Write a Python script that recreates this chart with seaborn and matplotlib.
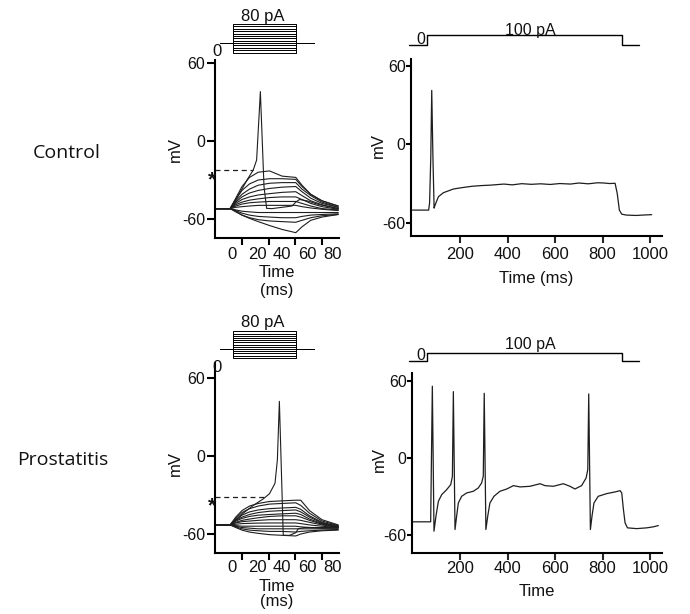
import matplotlib
matplotlib.use("Agg")
import matplotlib.pyplot as plt
import numpy as np
import pandas as pd
import seaborn as sns

# ======================= DATA =======================
row_labels = ["Control", "Prostatitis"]
step_label = "80 pA"
long_label = "100 pA"
zero_label = "0"
mv_label = "mV"
short_xlabel = "Time\n(ms)"
ctrl_long_xlabel = "Time (ms)"
pros_long_xlabel = "Time"

# current protocols
step_currents_pA = [-40, -30, -20, -10, 0, 10, 20, 30, 40, 50, 60, 70, 80]
step_protocol_t = [-9.6, 0.8, 0.8, 51.2, 51.2, 65.6]
step_protocol_on = [0, 0, 1, 1, 0, 0]
long_protocol_t = [-15, 61, 61, 882, 882, 954]
long_protocol_pA = [0, 0, 100, 100, 0, 0]

# ticks
short_tick_labels = [0, 20, 40, 60, 80]
short_tick_marks = [8, 29.6, 50.4, 72]
long_ticks = [200, 400, 600, 800, 1000]
mv_ticks = [-60, 0, 60]

# ---- Control, short steps ----
ctrl_sub_t = [-13.5, -1.5, 3, 8, 14, 21, 30, 40, 51, 56, 63, 72, 85]
ctrl_sub_mv = [
    [-52, -52, -44, -35, -28, -24, -23, -27, -28, -34, -41, -46, -50],
    [-52, -52, -45, -38, -33, -30, -29, -29, -29.5, -35, -41, -46, -50],
    [-52, -52, -46, -41, -37, -34, -32.5, -32, -32, -37, -42, -47, -51],
    [-52, -52, -47, -43, -40, -38, -36.5, -35.5, -35, -39, -44, -48, -51],
    [-52, -52, -48, -45, -43, -41.5, -40.5, -39.5, -39, -42, -46, -49, -52],
    [-52, -52, -49, -47, -45.5, -44.5, -43.5, -43, -43, -45, -48, -50.5, -52.5],
    [-52, -52, -50, -48.5, -47.5, -47, -46.5, -46.5, -46.5, -48, -50, -52, -53],
    [-52, -52, -51, -50.5, -50, -49.5, -49.5, -49.5, -49.5, -50.5, -51.5, -52.5, -53.5],
    [-52, -52, -53, -54, -54.5, -55, -55, -55, -55, -55, -55, -55, -55],
    [-52, -52, -53.5, -55.5, -57, -58, -58.5, -59, -59, -58, -57, -56.5, -56],
    [-52, -52, -54, -57, -59, -60.5, -61.5, -62, -62.5, -61, -59, -57.5, -56.5],
    [-52, -52, -54.5, -57, -59.5, -62, -65, -68, -70.5, -66, -61, -58.5, -56.5],
]
ctrl_spike_t = [-13.5, -1.5, 3, 8, 12, 17, 19.7, 22.7, 25.6, 27.7, 32, 40, 48, 51, 54, 60, 70, 85]
ctrl_spike_mv = [-52, -52, -45, -37, -30, -22.3, -14.6, 38, -35, -51.8, -52, -51, -50, -47, -45, -46, -49, -52]
ctrl_thr_t = 17
ctrl_thr_mv = -22.3

# ---- Prostatitis, short steps ----
pros_sub_t = [-13.5, -1.5, 3, 8, 14, 21, 30, 40, 51, 55, 62, 72, 85]
pros_sub_mv = [
    [-53, -53, -47, -42, -38.5, -36.5, -35, -34.5, -34, -34, -42, -49, -53],
    [-53, -53, -48, -43.5, -40.5, -38.5, -37, -36.5, -36, -38, -44, -50, -53.5],
    [-53, -53, -49, -45.5, -43, -41.5, -40.5, -40, -39.5, -41, -46, -51, -54],
    [-53, -53, -49.5, -47, -45, -43.5, -42.5, -42, -41.5, -43, -47, -51.5, -54],
    [-53, -53, -50, -48, -46.5, -45.5, -45, -44.5, -44, -45, -48.5, -52, -54.5],
    [-53, -53, -51, -49.5, -48.5, -47.5, -46.5, -46, -46, -47, -49.5, -52.5, -54.5],
    [-53, -53, -51.5, -50.5, -50, -49.5, -49, -49, -49, -49.5, -51, -53, -55],
    [-53, -53, -52.5, -52, -51.8, -51.6, -51.5, -51.5, -51.5, -52, -53, -54, -55],
    [-53, -53, -53.5, -54, -54, -54, -54, -54, -54, -54.5, -55, -55.5, -55.5],
    [-53, -53, -54, -55, -55.5, -56, -56, -56, -56, -56, -56, -56, -56],
    [-53, -53, -54.5, -56, -57, -57.5, -58, -58, -58.5, -58, -57.5, -57, -56.5],
    [-53, -53, -55, -57, -58.5, -59.5, -60.5, -61, -61.5, -60, -58.5, -57.5, -57],
]
pros_spike_t = [-13.5, -1.5, 1, 9, 17, 25, 30, 34.4, 36.3, 37.9, 41, 46, 51, 53, 58, 66, 75, 85]
pros_spike_mv = [-53, -53, -51, -44, -38, -33, -29, -21, -3, 42, -61, -61, -59, -56, -55, -55, -55, -55]
pros_thr_t = 26.4
pros_thr_mv = -31.3

# ---- Control, long 100 pA step ----
ctrl_long_t = [0, 68, 72, 77, 81, 86, 91, 95, 109, 130, 172, 202, 250, 286, 330, 385, 420,
               460, 500, 540, 580, 620, 665, 700, 740, 780, 806, 830, 853, 862, 871, 881,
               900, 940, 980, 1007]
ctrl_long_mv = [-50.5, -50.5, -45, -10, 41, -10, -49, -46.7, -40.3, -37.2, -34.4, -33.5, -32.3,
                -31.8, -31.4, -30.6, -31.2, -30.3, -30.8, -30.4, -30.9, -30.2, -30.6, -29.8,
                -30.4, -29.6, -29.8, -30.2, -30, -37.8, -50.5, -53.6, -54.3, -54.6, -54.2, -54]

# ---- Prostatitis, long 100 pA step ----
pros_long_t = [0, 70, 76.5, 83.5, 90.5, 99, 109, 123, 144, 161, 168, 172, 179,
               186, 193, 207, 228, 256, 277, 291, 298, 302, 309,
               317, 326, 343, 368, 397, 425, 453, 495, 537, 558, 593, 635, 663, 684, 712, 731, 738, 742, 749,
               756, 764, 782, 818, 853, 874, 881, 888, 895, 905, 944, 986, 1014, 1035]
pros_long_mv = [-49.7, -49.7, -49.7, 56, -57, -45, -33.7, -28.5, -24.6, -20.7, -14.2, 51.8, -55.7,
                -45, -35, -29.8, -27.2, -25.9, -23.3, -19.4, -14.2, 50.5, -55.7,
                -45, -35, -29.8, -25.9, -24.1, -21.5, -22.5, -22, -20, -21.5, -22, -20, -22, -24.1, -21.5, -15.5, -9, 50, -55.7,
                -45, -35, -29.8, -27.7, -26.4, -25.4, -27.2, -40, -50.5, -54.4, -55, -54.4, -53.6, -52.6]

# ======================= STYLE =======================
W, H = 690, 614
sns.set_theme(style="ticks")
plt.rcParams["font.family"] = ["Liberation Sans", "DejaVu Sans"]
INK = "#111111"
TRACE = "#1e1e1e"
SPINE_W = 1.5

fig = plt.figure(figsize=(W / 100, H / 100), dpi=100)
fig.patch.set_facecolor("white")


def add_ax(l, t, r, b):
    return fig.add_axes([l / W, 1 - b / H, (r - l) / W, (b - t) / H])


def ftext(px, py, s, **kw):
    kw.setdefault("ha", "center")
    kw.setdefault("va", "center")
    kw.setdefault("color", INK)
    fig.text(px / W, 1 - py / H, s, **kw)


def family_df(t_list, families):
    rows = []
    for k, vals in enumerate(families):
        for t, v in zip(t_list, vals):
            rows.append((k, t, v))
    return pd.DataFrame(rows, columns=["trace", "t", "mV"])


def draw_lines(ax, df, x, y, units=None, **kw):
    sns.lineplot(data=df, x=x, y=y, units=units, estimator=None, sort=False,
                 legend=False, ax=ax, **kw)


def style_main(ax, xlim, ylim, ytick_len, ytick_pad):
    ax.set_xlim(xlim)
    ax.set_ylim(ylim)
    ax.set_facecolor("none")
    sns.despine(ax=ax)
    for s in ["left", "bottom"]:
        ax.spines[s].set_linewidth(SPINE_W)
        ax.spines[s].set_color("black")
    ax.set_yticks(mv_ticks)
    ax.set_yticklabels([str(v) for v in mv_ticks])
    ax.tick_params(axis="y", length=ytick_len, width=SPINE_W, pad=ytick_pad,
                   labelsize=11.5, colors="black", labelcolor=INK)


def short_panel(box, ylim, sub_t, sub_mv, spk_t, spk_mv, thr_t, thr_mv, xpad,
                ylab_xy, xlab_y, linespacing):
    ax = add_ax(*box)
    xlim = (-13.6, 85.6)
    draw_lines(ax, family_df(sub_t, sub_mv), "t", "mV", units="trace", color=TRACE, lw=0.8)
    draw_lines(ax, pd.DataFrame({"t": spk_t, "mV": spk_mv}), "t", "mV", color=TRACE, lw=0.8)
    draw_lines(ax, pd.DataFrame({"t": [xlim[0], thr_t], "mV": [thr_mv, thr_mv]}), "t", "mV",
               color=TRACE, lw=0.9, linestyle=(0, (4, 3)))
    style_main(ax, xlim, ylim, 5.8, 1.2)
    ax.set_xticks(short_tick_labels)
    ax.set_xticklabels([str(v) for v in short_tick_labels])
    ax.set_xticks(short_tick_marks, minor=True)
    ax.tick_params(axis="x", which="major", length=0, pad=xpad, labelsize=12, labelcolor=INK)
    ax.tick_params(axis="x", which="minor", length=5, width=SPINE_W, color="black")
    ax.set_xlabel(short_xlabel, fontsize=12, color=INK, linespacing=linespacing)
    ax.xaxis.set_label_coords(0.5, xlab_y)
    ax.set_ylabel(mv_label, fontsize=12, color=INK)
    ax.yaxis.set_label_coords(*ylab_xy)
    return ax


def long_panel(box, xlim, ylim, t, mv, xlabel, xpad, ylab_xy, xlab_y):
    ax = add_ax(*box)
    draw_lines(ax, pd.DataFrame({"t": t, "mV": mv}), "t", "mV", color=TRACE, lw=0.9)
    style_main(ax, xlim, ylim, 3.6, 0.3)
    ax.set_xticks(long_ticks)
    ax.set_xticklabels([str(v) for v in long_ticks])
    ax.tick_params(axis="x", length=5, width=SPINE_W, pad=xpad, labelsize=12, labelcolor=INK)
    ax.set_xlabel(xlabel, fontsize=12, color=INK)
    ax.xaxis.set_label_coords(0.5, xlab_y)
    ax.set_ylabel(mv_label, fontsize=12, color=INK)
    ax.yaxis.set_label_coords(*ylab_xy)
    return ax


def step_inset(box, ylim):
    ax = add_ax(*box)
    rows = []
    for k, cur in enumerate(step_currents_pA):
        for t, on in zip(step_protocol_t, step_protocol_on):
            rows.append((k, t, cur * on))
    df = pd.DataFrame(rows, columns=["trace", "t", "pA"])
    draw_lines(ax, df, "t", "pA", units="trace", color="black", lw=0.7)
    ax.set_xlim(-13.6, 85.6)
    ax.set_ylim(ylim)
    ax.axis("off")


def long_inset(box, xlim, ylim):
    ax = add_ax(*box)
    draw_lines(ax, pd.DataFrame({"t": long_protocol_t, "pA": long_protocol_pA}), "t", "pA",
               color="black", lw=1.0)
    ax.set_xlim(xlim)
    ax.set_ylim(ylim)
    ax.axis("off")


# ======================= PANELS =======================
# A: control, short steps
short_panel((215, 60, 339, 238), (-74.6, 62.3), ctrl_sub_t, ctrl_sub_mv,
            ctrl_spike_t, ctrl_spike_mv, ctrl_thr_t, ctrl_thr_mv,
            xpad=6.5, ylab_xy=(-0.26, 0.50), xlab_y=-0.15, linespacing=1.25)
# C: prostatitis, short steps
short_panel((215, 363, 339, 553), (-74.6, 71.5), pros_sub_t, pros_sub_mv,
            pros_spike_t, pros_spike_mv, pros_thr_t, pros_thr_mv,
            xpad=5.2, ylab_xy=(-0.26, 0.47), xlab_y=-0.135, linespacing=1.0)
# B: control, long step
long_panel((411, 59, 662, 236), (-6.3, 1050.5), (-70.3, 65.0), ctrl_long_t, ctrl_long_mv,
           ctrl_long_xlabel, xpad=3.0, ylab_xy=(-0.10, 0.51), xlab_y=-0.195)
# D: prostatitis, long step
long_panel((412, 373, 662, 553), (-2.1, 1050.5), (-74.0, 66.3), pros_long_t, pros_long_mv,
           pros_long_xlabel, xpad=1.0, ylab_xy=(-0.10, 0.52), xlab_y=-0.175)

# current-protocol insets
step_inset((215, 10, 339, 62), (-80, 139))
step_inset((215, 315, 339, 366), (-77.3, 154.5))
long_inset((400, 22, 662, 56), (-52.6, 1050.5), (-110, 230))
long_inset((400, 340, 662, 372), (-52.6, 1050.5), (-137.5, 262.5))

# protocol annotations
ftext(263, 17, step_label, fontsize=12)
ftext(263, 323, step_label, fontsize=12)
ftext(217, 52, zero_label, fontsize=12)
ftext(217, 368, zero_label, fontsize=12)
ftext(530, 31, long_label, fontsize=11.5)
ftext(530, 345, long_label, fontsize=11.5)
ftext(421, 40, zero_label, fontsize=11.5)
ftext(421, 355, zero_label, fontsize=11.5)

# threshold asterisks
ftext(212, 180, "*", fontsize=15, fontweight="bold")
ftext(212, 506, "*", fontsize=15, fontweight="bold")

# row labels
ftext(67, 153, row_labels[0], fontsize=14, family=["Open Sans", "DejaVu Sans"])
ftext(63, 460, row_labels[1], fontsize=14, family=["Open Sans", "DejaVu Sans"])

fig.savefig("out.png", dpi=100, facecolor="white")
